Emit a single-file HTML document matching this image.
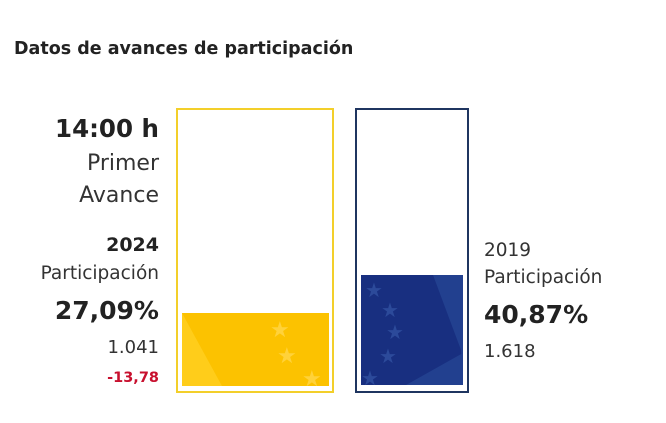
<!DOCTYPE html>
<html><head><style>
body{margin:0;width:666px;height:423px;background:#fff;font-family:"DejaVu Sans",sans-serif;color:#222;position:relative;overflow:hidden}
.t{position:absolute;white-space:nowrap}
.r{text-align:right;right:507px}
</style></head><body>
<div class="t" style="left:14px;top:39px;font-size:17.5px;font-weight:bold">Datos de avances de participación</div>
<div class="t r" style="top:114px;font-size:24.5px;font-weight:bold">14:00 h</div>
<div class="t r" style="top:151px;font-size:22px;color:#333">Primer</div>
<div class="t r" style="top:183px;font-size:22px;color:#333">Avance</div>
<div class="t r" style="top:234px;font-size:19px;font-weight:bold">2024</div>
<div class="t r" style="top:263px;font-size:18.5px;color:#333">Participación</div>
<div class="t r" style="top:296px;font-size:25px;font-weight:bold">27,09%</div>
<div class="t r" style="top:337px;font-size:18px;color:#333">1.041</div>
<div class="t r" style="top:370px;font-size:14.5px;font-weight:bold;color:#c8102e">-13,78</div>

<div style="position:absolute;left:176px;top:108px;width:154px;height:281px;border:2px solid #f3cf2a"></div>
<svg style="position:absolute;left:182px;top:313px" width="147" height="73">
<rect width="147" height="73" fill="#fcc200"/>
<polygon points="0,0 0,73 40,73" fill="#ffcd1a"/>
<g fill="#ffd23a" font-size="22"><text x="88" y="24">★</text><text x="95" y="50">★</text><text x="120" y="73">★</text></g>
</svg>

<div style="position:absolute;left:355px;top:108px;width:110px;height:281px;border:2px solid #1f3560"></div>
<svg style="position:absolute;left:361px;top:275px" width="102" height="110">
<rect width="102" height="110" fill="#182f80"/>
<polygon points="72,0 102,0 102,110 100,75" fill="#22408f"/>
<polygon points="102,78 45,110 102,110" fill="#22408f"/>
<g fill="#2c4a9a" font-size="20"><text x="4" y="22">★</text><text x="20" y="42">★</text><text x="25" y="64">★</text><text x="18" y="88">★</text><text x="0" y="110">★</text></g>
</svg>

<div class="t" style="left:484px;top:240px;font-size:18.5px;color:#333">2019</div>
<div class="t" style="left:484px;top:267px;font-size:18.5px;color:#333">Participación</div>
<div class="t" style="left:484px;top:300px;font-size:25px;font-weight:bold">40,87%</div>
<div class="t" style="left:484px;top:341px;font-size:18px;color:#333">1.618</div>
</body></html>
